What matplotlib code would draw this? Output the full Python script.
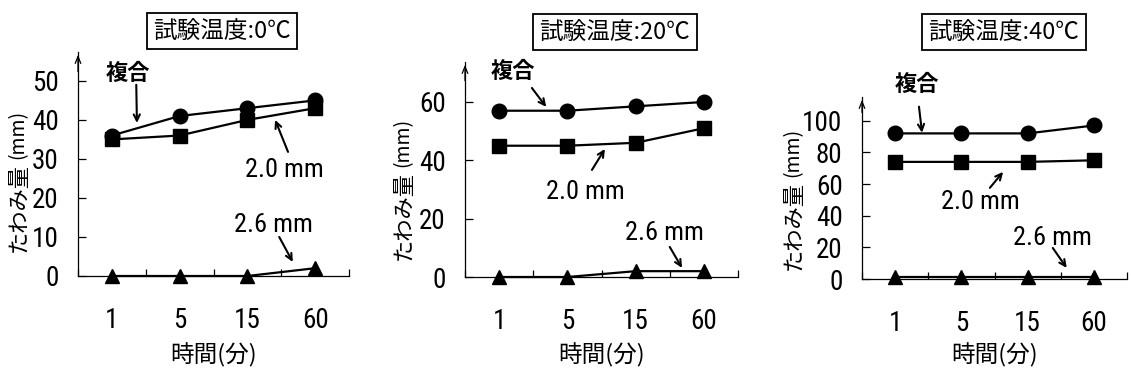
import matplotlib
matplotlib.use("Agg")
import matplotlib.pyplot as plt
from matplotlib import font_manager

# ---- data -------------------------------------------------------------
times = ["1", "5", "15", "60"]
temps = ["0", "20", "40"]

composite = [
    [36, 41, 43, 45],
    [57, 57, 58.5, 60],
    [92, 92, 92, 97],
]
plate_20 = [
    [35, 36, 40, 43],
    [45, 45, 46, 51],
    [74, 74, 74, 75],
]
plate_26 = [
    [0, 0, 0, 2],
    [0, 0, 2, 2],
    [1, 1, 1, 1],
]
y_ticks = [
    [0, 10, 20, 30, 40, 50],
    [0, 20, 40, 60],
    [0, 20, 40, 60, 80, 100],
]
y_tops = [57.4, 73.7, 115]

series_names = ["複合", "2.0 mm", "2.6 mm"]
title_fmt = "試験温度:{}℃"
x_label = "時間(分)"
y_label_main = "たわみ量"
y_label_unit = "(mm)"

# ---- fonts ------------------------------------------------------------
# narrow face for the numerals, best available first
available = {f.name for f in font_manager.fontManager.ttflist}
NUM = dict(fontfamily="DejaVu Sans", fontstretch="condensed")
for name in ("Liberation Sans Narrow", "Roboto Condensed", "Open Sans Condensed"):
    if name in available:
        NUM = dict(fontfamily=name)
        break
JP_FONT = ["Noto Sans CJK JP", "DejaVu Sans"]
plt.rcParams["font.family"] = JP_FONT

W, H = 1131, 378
fig = plt.figure(figsize=(W / 100, H / 100), dpi=100)


def fx(px):
    return px / W


def fy(py):
    return 1 - py / H


# axes boxes in pixels: left, right, bottom (x-axis y), top
boxes = [(78, 349, 276, 52), (465, 738, 277, 62), (862, 1127, 279, 97)]
title_pos = [(222, 31), (615, 32), (1004, 32)]
ylab_pos = [((18, 207), (18, 134)), ((403, 215), (403, 142)), ((793, 225), (793, 152))]

# annotation label and arrow placements (data coordinates)
notes = [
    [((0.74, 52.0), (0.86, 49.0), (0.87, 39.2)),
     ((3.04, 27.2), (3.10, 31.8), (2.91, 40.0)),
     ((2.89, 13.1), (2.97, 10.0), (3.17, 3.6))],
    [((0.70, 70.3), (0.98, 64.8), (1.19, 58.3)),
     ((1.76, 29.1), (1.86, 36.7), (2.05, 43.9)),
     ((2.92, 15.1), (3.00, 10.3), (3.18, 3.1))],
    [((0.83, 122.8), (0.86, 108.9), (0.906, 92.4)),
     ((1.78, 48.7), (1.93, 57.6), (2.13, 67.7)),
     ((2.88, 25.9), (2.88, 19.6), (3.09, 7.0))],
]

xc = [0.5, 1.5, 2.5, 3.5]

for i, (l, r, b, t) in enumerate(boxes):
    ax = fig.add_axes([fx(l), fy(b), fx(r - l), (b - t) / H])
    ax.set_xlim(0, 4)
    ax.set_ylim(0, y_tops[i])

    ax.plot(xc, composite[i], color="black", lw=1.6, marker="o", ms=10.5, zorder=3, clip_on=False)
    ax.plot(xc, plate_20[i], color="black", lw=1.6, marker="s", ms=10.5, zorder=3, clip_on=False)
    ax.plot(xc, plate_26[i], color="black", lw=1.6, marker="^", ms=10.5, zorder=3, clip_on=False)

    for s in ("top", "right"):
        ax.spines[s].set_visible(False)
    for s in ("left", "bottom"):
        ax.spines[s].set_linewidth(0.9)

    # arrowhead at the top of the y axis
    ax.annotate("", xy=(0, 1.0), xytext=(0, 0.9), xycoords="axes fraction",
                arrowprops=dict(arrowstyle="->,head_length=0.5,head_width=0.2", lw=0.9, color="black"),
                annotation_clip=False)

    ax.set_yticks(y_ticks[i])
    ax.set_yticklabels([str(v) for v in y_ticks[i]], fontsize=19.5, **NUM)
    ax.tick_params(axis="y", direction="in", length=6, width=0.9, pad=14)

    ax.set_xticks([0, 1, 2, 3, 4])
    ax.set_xticklabels([])
    ax.tick_params(axis="x", which="major", direction="in", length=5, width=0.9)
    ax.set_xticks(xc, minor=True)
    ax.set_xticklabels(times, minor=True, fontsize=19.5, **NUM)
    ax.tick_params(axis="x", which="minor", length=0, pad=22)

    ax.set_xlabel(x_label, fontsize=17)
    ax.xaxis.set_label_coords(0.5, -(355 - b) / (b - t))
    ax.xaxis.label.set_va("center")

    # title box
    tx, ty = title_pos[i]
    fig.text(fx(tx), fy(ty), title_fmt.format(temps[i]), fontsize=17, ha="center", va="center",
             bbox=dict(boxstyle="square,pad=0.28", fc="white", ec="black", lw=1.3))

    # vertical axis label
    (mx, my), (ux, uy) = ylab_pos[i]
    fig.text(fx(mx), fy(my), y_label_main, rotation=90, fontsize=16, ha="center", va="center")
    fig.text(fx(ux), fy(uy), y_label_unit, rotation=90, fontsize=14, ha="center", va="center")

    # series labels with arrows
    for j, (txt_xy, a_from, a_to) in enumerate(notes[i]):
        if j == 0:
            ax.text(*txt_xy, series_names[j], fontsize=16, fontweight="bold",
                    ha="center", va="center", clip_on=False)
        else:
            ax.text(*txt_xy, series_names[j], fontsize=19,
                    ha="center", va="center", clip_on=False, **NUM)
        ax.annotate("", xy=a_to, xytext=a_from, xycoords="data",
                    arrowprops=dict(arrowstyle="->,head_length=0.45,head_width=0.22",
                                    lw=1.5, color="black", shrinkA=0, shrinkB=0),
                    annotation_clip=False)

fig.savefig("out.png", dpi=100)
